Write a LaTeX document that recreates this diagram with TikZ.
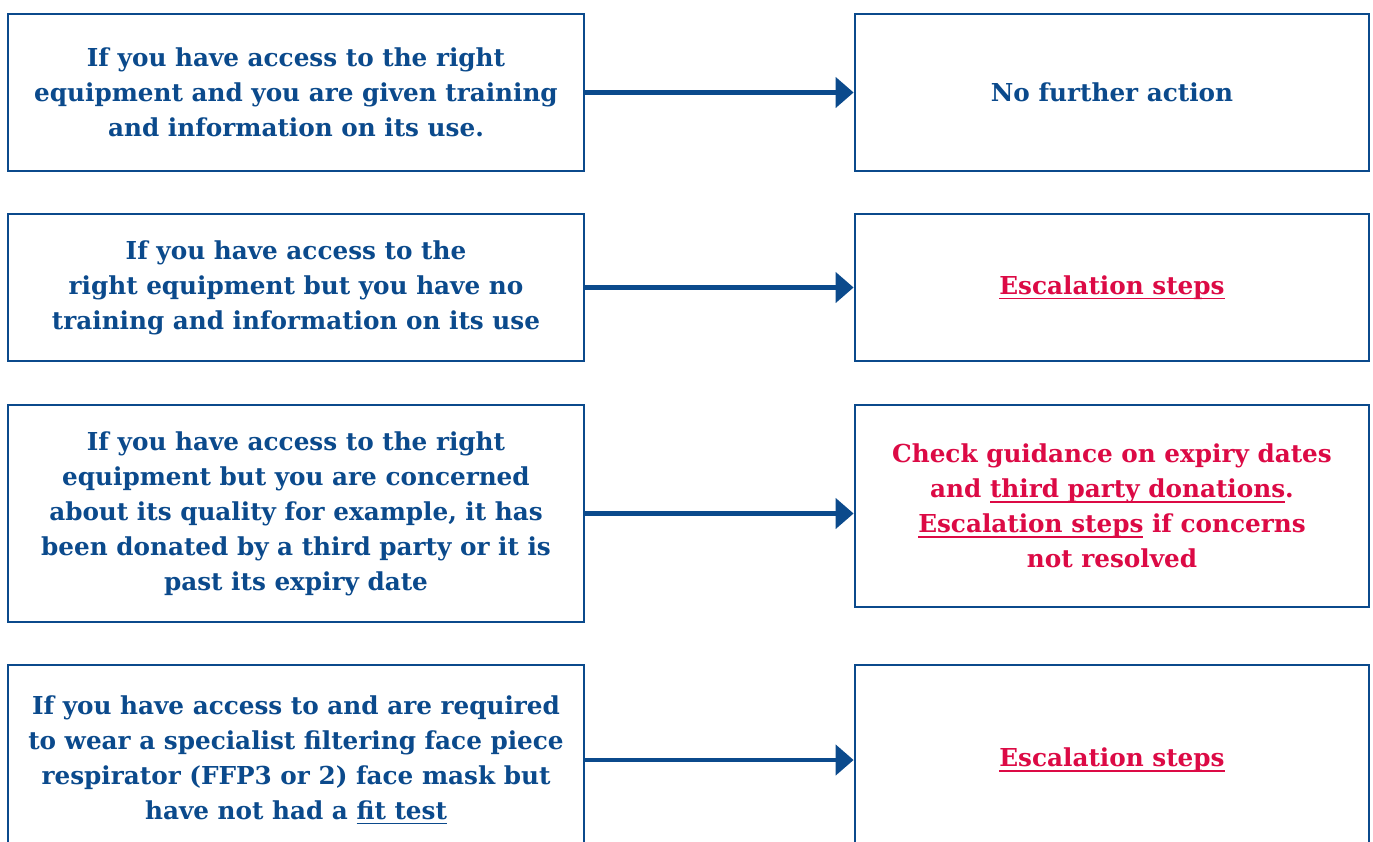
\documentclass[tikz,border=0pt]{standalone}
\usepackage{fontspec}
\setmainfont{DejaVu Serif}
\usepackage{xcolor}
\definecolor{flowBlue}{HTML}{0B4A8C}
\definecolor{flowRed}{HTML}{DC0A45}
\usepackage{tikz}
\usetikzlibrary{arrows.meta, positioning}
\newsavebox{\escbox}
\newcommand{\esclink}[1]{\sbox{\escbox}{#1}%
  \rlap{\vrule height -3.2pt depth 4.9pt width \wd\escbox}\usebox{\escbox}}

\begin{document}
\begin{tikzpicture}[x=1pt, y=-1pt,
  condbox/.style={draw=flowBlue, line width=2.8pt, fill=white, inner sep=0pt,
    minimum width=576pt, align=center, text=flowBlue,
    font=\bfseries\fontsize{24.7}{35}\selectfont},
  actbox/.style={condbox, minimum width=514pt},
  redtext/.style={text=flowRed},
  flowarrow/.style={draw=flowBlue, line width=4.5pt,
    -{Triangle[length=18pt, width=30pt]}}]
  \useasboundingbox (0,0) rectangle (1373,841);
  \clip (0,0) rectangle (1373,841);

  % conditions (left column)
  \node[condbox, minimum height=157pt] (cond1) at (296,92.5)
    {If you have access to the right\\ equipment and you are given training\\ and information on its use.};
  \node[condbox, minimum height=147pt] (cond2) at (296,287.5)
    {If you have access to the\\ right equipment but you have no\\ training and information on its use};
  \node[condbox, minimum height=217pt] (cond3) at (296,513.5)
    {If you have access to the right\\ equipment but you are concerned\\ about its quality for example, it has\\ been donated by a third party or it is\\ past its expiry date};
  \node[condbox, minimum height=190pt] (cond4) at (296,760)
    {If you have access to and are required\\ to wear a specialist filtering face piece\\ respirator (FFP3 or 2) face mask but\\ have not had a \esclink{fit test}};

  % actions (right column)
  \node[actbox, minimum height=157pt] (act1) at (1112,92.5) {No further action};
  \node[actbox, minimum height=147pt, redtext] (act2) at (1112,287.5) {\esclink{Escalation steps}};
  \node[actbox, minimum height=202pt, redtext] (act3) at (1112,506)
    {Check guidance on expiry dates\\ and \esclink{third party donations}.\\ \esclink{Escalation steps} if concerns\\ not resolved};
  \node[actbox, minimum height=190pt, redtext] (act4) at (1112,760) {\esclink{Escalation steps}};

  \draw[flowarrow] (cond1.east) -- (act1.west);
  \draw[flowarrow] (cond2.east) -- (act2.west);
  \draw[flowarrow] (cond3.east) -- (cond3.east -| act3.west);
  \draw[flowarrow] (cond4.east) -- (act4.west);
\end{tikzpicture}
\end{document}
